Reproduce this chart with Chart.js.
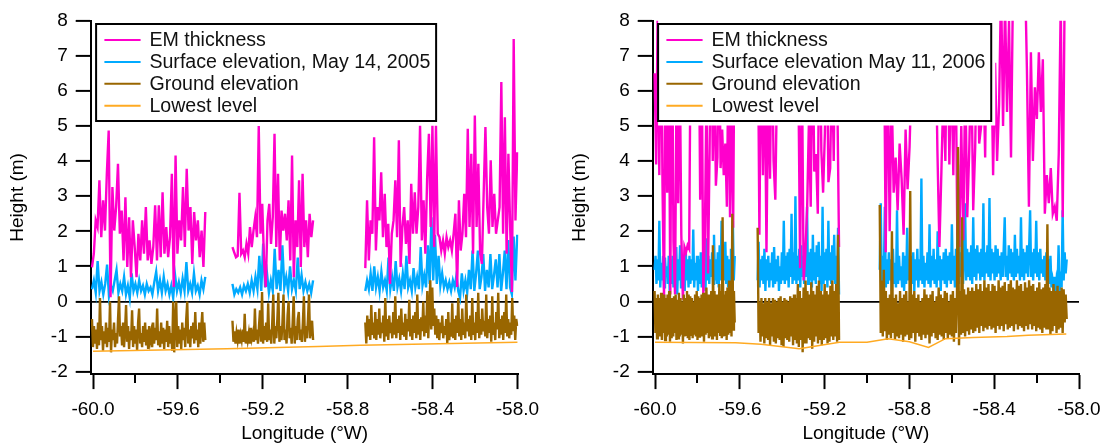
<!DOCTYPE html>
<html>
<head>
<meta charset="utf-8">
<script src="https://cdn.jsdelivr.net/npm/chart.js@4.4.1/dist/chart.umd.min.js"></script>
<style>
  html, body { margin: 0; padding: 0; background: #fff; }
  .panel { position: absolute; top: 0; width: 540px; height: 445px; }
</style>
</head>
<body>
<div class="panel" style="left:0px"><canvas id="left"></canvas></div>
<div class="panel" style="left:562px"><canvas id="right"></canvas></div>
<script>
const xTicks = [-60.0, -59.8, -59.6, -59.4, -59.2, -59.0, -58.8, -58.6, -58.4, -58.2, -58.0];
const yTicks = [-2, -1, 0, 1, 2, 3, 4, 5, 6, 7, 8];

const namesL = ["EM thickness", "Surface elevation, May 14, 2005", "Ground elevation", "Lowest level"];
const namesR = ["EM thickness", "Surface elevation May 11, 2006", "Ground elevation", "Lowest level"];
const colors = ["#ff00cc", "#00aaff", "#996600", "#ffaa22"];

// flight segments, start / end longitude
const segL = [[-60.005, -59.471], [-59.343, -58.963], [-58.717, -58.001]];
const segR = [[-60.002, -59.624], [-59.516, -59.132], [-58.94, -58.058]];

// ---- May 14, 2005 ----
const emL1 = [0.97, 1.36, 2.31, 2.12, 3.45, 1.83, 2.88, 2.02, 3.64, 4.87, 0.12, 3.26, 2.02, 2.69, 3.92, 1.93, 2.59, 1.17, 2.97, 0.98, 2.40, 0.69, 2.31, 1.55, 0.69, 1.93, 1.17, 2.31, 1.36, 2.69, 1.17, 1.74, 1.07, 1.55, 2.74, 1.17, 2.74, 1.26, 3.11, 1.36, 2.12, 1.26, 1.83, 3.64, 0.41, 4.16, 1.36, 2.31, 1.74, 3.26, 1.55, 3.78, 2.02, 2.69, 1.07, 2.55, 1.74, 2.31, 1.26, 2.02, 0.98, 2.55];
const emL2 = [1.55, 1.4, 1.26, 1.3, 3.1, 1.36, 1.45, 1.26, 1.64, 1.36, 2.12, 1.55, 2.02, 2.4, 1.83, 5.0, 1.93, 2.78, 1.17, 0.41, 2.31, 2.78, 1.64, 2.4, 4.78, 1.55, 3.64, 1.17, 2.59, 2.02, 2.5, 1.74, 2.88, 1.17, 4.16, 0.69, 2.31, 1.55, 3.45, 0.98, 3.64, 1.55, 2.31, 1.26, 2.5, 1.83, 2.31];
const emL3 = [0.95, 2.88, 1.17, 2.31, 1.93, 4.68, 1.45, 2.69, 2.31, 3.68, 1.83, 3.07, 1.55, 2.21, 0.5, 1.93, 2.31, 3.45, 1.83, 4.59, 0.98, 2.12, 2.69, 1.64, 2.31, 1.07, 3.35, 1.93, 3.11, 1.93, 2.69, 5.01, 1.74, 2.88, 1.36, 3.49, 4.78, 2.12, 5.01, 1.55, 5.01, 1.93, 1.83, 1.45, 1.74, 1.36, 1.83, 1.55, 1.74, 1.45, 1.93, 2.5, 0.41, 2.88, 1.45, 1.93, 3.07, 1.83, 4.92, 2.12, 4.21, 1.36, 5.3, 2.12, 3.92, 1.36, 1.07, 3.07, 4.97, 2.69, 1.93, 4.02, 2.12, 3.07, 1.93, 2.31, 2.69, 6.25, 1.93, 5.25, 1.36, 4.21, 2.12, 0.27, 7.48, 2.31, 4.25];

const sfL1 = [0.35, 0.6, 0.25, 1.15, 0.3, 0.55, 0.2, 0.5, 1.05, 0.15, 0.45, 0.3, 0.6, 0.9, 0.25, 0.5, 0.3, 0.7, 0.2, 0.45, 0.1, 0.8, 0.3, 0.5, 0.25, 0.6, 0.3, 0.45, 0.2, 0.5, 0.3, 0.4, 0.2, 0.55, 0.85, 0.3, 0.6, 0.25, 0.7, 0.3, 0.5, 0.2, 0.45, 0.1, 0.75, 0.3, 0.55, 0.25, 0.65, 0.3, 1.12, 0.3, 0.5, 0.25, 0.8, 0.3, 0.45, 0.2, 0.6, 0.35, 0.7];
const sfL2 = [0.5, 0.2, 0.35, 0.25, 0.4, 0.2, 0.45, 0.3, 0.5, 0.25, 0.6, 0.3, 0.7, 0.35, 1.3, 0.3, 1.65, 0.4, 0.8, 0.25, 0.6, 0.3, 1.5, 0.35, 0.9, 0.3, 1.6, 0.4, 0.7, 0.3, 1.0, 0.35, 0.6, 0.3, 1.25, 0.35, 0.75, 0.3, 0.55, 0.3, 0.5, 0.25, 0.6];
const sfL3 = [0.3, 0.6, 0.35, 0.8, 0.3, 1.0, 0.4, 0.7, 0.3, 0.85, 0.4, 0.6, 0.3, 1.25, 0.35, 0.7, 0.3, 1.15, 0.4, 0.65, 0.3, 0.8, 0.35, 1.3, 0.4, 0.6, 0.3, 0.95, 0.4, 0.7, 0.35, 1.55, 0.45, 0.75, 0.4, 1.6, 0.5, 2.4, 0.6, 1.9, 0.5, 1.3, 0.45, 0.8, 0.4, 0.6, 0.35, 0.55, 0.3, 0.6, 0.4, 0.75, 0.3, 0.1, 0.8, 0.3, 0.6, 0.25, 0.9, 0.35, 1.45, 0.3, 0.8, 1.45, 0.35, 0.7, 1.35, 0.3, 0.9, 0.4, 1.35, 0.35, 0.75, 1.2, 0.4, 1.35, 0.3, 0.8, 1.45, 0.35, 1.75, 0.4, 0.2, 1.85, 0.6, 1.9];

const gdL1 = [-0.5, -1.3, -0.7, -1.2, -0.8, -1.35, -0.6, -1.25, 0.1, -1.1,
  -0.7, -1.4, -0.85, -1.2, -0.6, -1.3, -0.75, -1.15, 0.0, -1.45,
  -0.8, -1.1, -0.6, -1.3, -0.9, -1.2, -0.5, 0.15, -1.0, -0.7,
  -1.25, -0.6, -1.3, -0.8, -0.1, -1.15, -0.7, -1.35, -0.85, -1.1,
  -0.25, -1.3, -0.7, -1.2, -0.8, -1.4, -0.6, -0.2, -1.2, -0.9,
  -1.3, -0.7, -1.15, -0.6, -1.25, -0.8, -1.35, -0.7, -1.1, -0.9,
  -1.3, -0.6, -1.2, -0.75, -1.1, -0.2, -1.25, -0.85, -1.3, -0.6,
  -1.2, -0.75, -1.35, -0.8, -1.15, -0.55, -1.3, -0.7, -1.2, -0.9,
  -1.4, 0.0, -1.45, -0.6, 0.0, -1.3, -0.7, -1.2, -0.8, -1.35,
  -0.6, -1.1, -0.75, -1.3, -0.5, 0.0, -1.2, -0.8, -1.3, -0.7,
  -1.05, -0.6, -1.2, -0.3, -1.1, -0.8, -1.3, -0.6, -1.2, -0.75,
  -0.3, -1.15, -0.6, -1.1];
const gdL2 = [-0.55, -1.15, -0.85, -1.2, -0.9, -1.1, -0.8, -1.2, -0.95, -1.1,
  -0.8, -1.15, -0.35, -1.2, -0.85, -1.1, -0.9, -1.2, -0.75, -1.05,
  -0.9, -1.15, -0.2, -1.1, -0.8, -1.2, -0.7, -0.25, -1.15, 0.27,
  -1.2, -0.7, -1.1, -0.6, -1.15, -0.05, -1.1, -0.8, -1.2, -0.6,
  0.2, -1.2, -0.7, -1.05, -0.5, 0.25, -1.15, -0.7, -1.1, -0.6,
  0.2, -1.1, -0.8, -1.2, -0.4, 0.0, -1.05, -0.75, -1.2, -0.6,
  0.15, -1.2, -0.7, -1.1, -0.5, -0.3, -1.1, -0.8, -1.15, -0.6,
  0.15, -1.15, -0.7, -1.05, -0.5, 0.2, -1.05, -0.8, -0.55, -1.1];
const gdL3 = [-0.6, -1.2, -0.4, -1.0, -0.5, -1.1, -0.1, -0.95, -0.6, -1.05,
  -0.3, -1.1, -0.5, -0.95, -0.2, -1.05, -0.6, -0.9, -0.4, -1.15,
  0.1, -1.0, -0.5, -1.1, -0.4, -0.9, -0.6, -1.05, -0.3, -0.95,
  0.15, -1.05, -0.5, -0.9, -0.4, -1.1, -0.2, -0.95, -0.6, -1.0,
  -0.35, -1.1, -0.5, -0.85, 0.05, -1.0, -0.5, -1.1, -0.4, -0.9,
  -0.3, -1.05, 0.2, -0.95, -0.5, -1.1, -0.45, -0.85, 0.0, -1.0,
  -0.4, -0.9, 0.3, -1.05, -0.3, 0.6, -0.8, 0.4, -0.7, -0.2,
  -0.95, -0.4, -1.05, -0.5, -1.1, -0.6, -0.9, -0.4, -1.05, -0.7,
  -0.95, -0.5, -1.2, -0.3, -1.1, -0.6, -1.0, -0.05, -1.05, -0.5,
  -1.1, -0.4, -0.9, 0.1, -1.0, -0.5, -1.1, -0.2, -0.95, -0.6,
  -1.05, 0.2, -0.85, -0.5, -1.0, -0.4, -1.1, 0.1, -0.95, -0.6,
  -1.1, -0.3, -0.9, 0.25, -1.05, -0.5, -0.95, -0.2, -0.85, -0.55,
  -1.0, 0.2, -1.05, -0.5, -0.9, -0.4, -1.15, 0.15, -0.95, -0.6,
  -1.1, -0.3, -0.8, 0.25, -1.05, -0.5, -0.95, -0.4, -1.1, -0.3,
  -0.9, 0.2, -1.0, -0.5, -1.05, -0.6, -0.95, 0.1, -0.85, -0.4,
  -1.1, -0.5, -0.7];

const lowLonL = [-60.0, -59.37, -58.94, -58.74, -58.0];
const lowL = [-1.42, -1.35, -1.28, -1.25, -1.16];

// ---- May 11, 2006 ----
const emR1 = [6.5, 3.9, 8.5, 3.6, 9, 3.4, 0.05, 8, 3.1, 7, 0.2, 9, 1.7, 0.2, 6.5, 2.8, 7, 1.9, 0.05, 1.55, 1.4, 1.6, 1.5, 8, 9, 7, 8.5, 6, 9, 2.9, 7, 0.2, 1.9, 6, 0.8, 4.3, 9, 4.0, 7, 3.3, 4.1, 8, 3.8, 4.9, 3.6, 4.5, 2.7, 7, 2.4, 6, 2.1, 9];
const emR2 = [9, 1.9, 8, 3.6, 7, 1.4, 6.5, 3.5, 8, 4.0, 2.9, 6.5, 8, 7, 9, 6.5, 8, 7.5, 9, 6, 8, 7, 9, 6.5, 0.95, 7, 0.6, 1.4, 2.7, 5.2, 2.7, 8, 3.7, 4.2, 2.5, 9, 4.3, 3.1, 4.8, 8, 3.4, 3.8, 7, 4.0, 9, 6, 1.55];
const emR3 = [8, 9, 9, 1.4, 7, 2.0, 6, 3.1, 4.1, 2.6, 4.5, 3.5, 1.9, 4.9, 3.2, 4.4,
  6.5, 8, 9, 7, 8.5, 6.2, 9, 7, 8, 7.5, 9, 6.5, 8,
  4.3, 1.55, 3.7, 6, 4.0, 9, 3.9, 7, 3.6, 8, 1.9, 1.55, 5.0, 1.74, 6.5, 2.4, 4.3, 7, 2.6, 4.4, 8, 4.5, 5.0, 7, 4.1,
  9, 5.2, 7.5, 3.6, 6.8, 4.0, 5.6, 9, 5.0, 8.5, 5.4, 8, 4.1,
  9, 10, 9.5, 11, 9, 10, 9.5,
  6.6, 2.7, 7.1, 4.0, 6.1, 5.2, 7.1, 5.4, 6.9, 2.5, 3.6, 2.8, 3.8, 2.5, 2.7, 2.3, 4.2, 8.5, 2.4, 9, 8.6];

const sfR1 = [0.9, 1.3, 0.5, 1.2, 0.6, 2.3, 0.4, 1.1, 0.6, 1.3,
  0.4, 1.25, 0.7, 1.0, 0.5, 1.3, 0.3, 1.2, 0.5, 1.3,
  0.4, 0.9, 0.6, 1.55, 0.2, 1.2, 0.6, 1.6, 0.4, 1.1,
  0.5, 1.0, 0.3, 1.5, 0.6, 1.2, 0.4, 1.3, 0.5, 1.2,
  0.6, 2.05, 0.4, 1.1, 0.6, 1.3, 0.3, 1.2, 0.5, 1.4,
  0.4, 1.0, 0.6, 1.3, 0.3, 1.8, 0.6, 1.3, 0.5, 1.2,
  0.7, 1.4, 0.5, 1.9, 0.6, 1.2, 0.5, 1.4, 0.4, 1.6,
  0.6, 2.3, 0.5, 1.3, 0.6, 1.7, 0.5, 1.3, 0.4, 1.2,
  0.6, 1.5, 0.5, 2.3, 0.6, 1.3];
const sfR2 = [0.6, 1.7, 0.4, 1.2, 0.6, 1.3, 0.5, 1.5, 0.3, 1.2,
  0.6, 1.3, 0.4, 1.1, 0.6, 1.4, 0.4, 1.55, 0.5, 1.2,
  0.6, 1.3, 0.3, 1.0, 0.5, 1.4, 0.6, 2.3, 0.5, 1.3,
  0.6, 1.4, 0.4, 1.5, 0.7, 2.5, 0.5, 1.4, 0.6, 3.0,
  0.5, 1.3, 0.6, 1.5, 0.4, 1.6, 0.7, 1.3, 0.5, 1.5,
  0.7, 2.7, 0.5, 1.4, 0.6, 1.5, 0.4, 1.9, 0.6, 1.4,
  0.5, 1.6, 0.7, 1.7, 0.5, 1.3, 0.3, 2.7, 0.5, 1.4,
  0.6, 1.5, 0.4, 2.3, 0.6, 1.4, 0.5, 1.6, 0.6, 1.9,
  0.5, 1.3, 0.4, 2.1, 0.2];
const sfR3 = [0.9, 2.8, 0.5, 1.3, 0.6, 2.7, 0.4, 1.2, 0.5, 1.4,
  0.6, 1.2, 0.3, 1.5, 0.5, 1.1, 0.4, 2.6, 0.5, 1.3,
  0.6, 1.0, 0.4, 1.4, 0.3, 1.3, 0.5, 2.1, 0.6, 1.2,
  0.4, 1.3, 0.5, 1.4, 0.3, 1.2, 0.6, 1.5, 0.4, 1.2,
  0.6, 3.5, 0.5, 1.3, 0.4, 1.1, 0.6, 1.4, 0.5, 2.2,
  0.4, 1.3, 0.6, 1.5, 0.5, 1.2, 0.4, 2.0, 0.6, 1.3,
  0.3, 1.2, 0.6, 1.4, 0.5, 1.5, 0.4, 1.3, 0.6, 1.4,
  0.5, 2.2, 0.6, 1.3, 0.4, 1.5, 0.6, 3.9, 0.5, 1.4,
  0.7, 2.2, 0.5, 1.3, 2.8, 0.6, 1.5, 0.7, 1.4, 0.6,
  1.6, 0.5, 2.4, 0.7, 1.5, 0.6, 1.6, 0.8, 1.4, 0.6,
  1.5, 0.7, 2.8, 0.6, 1.4, 0.8, 1.6, 0.7, 2.95, 0.6,
  1.5, 0.8, 1.4, 0.6, 1.6, 0.7, 1.5, 0.8, 1.3, 0.6,
  1.4, 0.7, 1.5, 2.4, 0.7, 1.3, 0.6, 1.6, 0.8, 1.5,
  0.7, 1.4, 0.6, 1.9, 0.7, 1.5, 0.8, 1.3, 0.6, 2.4,
  0.7, 1.5, 0.6, 1.4, 0.8, 1.6, 0.7, 1.5, 2.6, 0.7,
  1.4, 0.6, 1.5, 0.8, 2.3, 0.7, 1.4, 0.6, 1.5, 0.8,
  1.2, 0.7, 1.3, 0.6, 1.4, 0.7, 1.2, 0.5, 1.3, 0.4,
  0.6, 0.3, 0.7, 0.2, 0.6, 0.4, 1.6, 0.3, 0.6, 0.4,
  2.6, 0.6, 1.4, 0.8, 1.2];

const gdR1 = [0.3, -0.9, 0.1, -1.05, 0.2, -0.95, 0.1, -1.0, 0.25, -1.1,
  0.0, -0.9, 0.2, -1.1, 0.1, -1.0, 0.2, -0.95, 0.3, -1.15,
  0.0, -1.05, 0.1, -1.0, 0.15, -0.9, 0.2, -1.1, 0.05, -1.05,
  0.25, -1.0, 0.1, -0.95, 0.0, -1.2, 0.2, -1.0, 0.1, -0.95,
  0.3, -1.05, 0.2, -1.1, 0.15, -0.95, 0.1, -1.05, 0.0, -0.95,
  0.2, -1.0, 0.3, -1.1, 0.15, -1.0, 0.1, -0.9, 0.2, -1.0,
  0.25, -1.15, 0.1, -0.95, 0.4, -0.9, 0.2, -1.05, 0.0, -1.0,
  0.3, -1.05, 1.6, -0.95, 0.3, -1.0, 0.2, -1.1, 0.1, -0.9,
  0.5, -0.95, 0.3, -1.05, 2.4, -1.0, 0.2, -0.95, 0.3, -1.1,
  0.4, -0.95, 0.6, -0.9, 0.3, -1.0, 2.5, -0.8, 0.3, -0.6];
const gdR2 = [2.1, -0.9, 0.0, -1.15, 0.1, -1.0, -0.05, -1.2, 0.1, -1.05,
  0.0, -1.1, 0.1, -1.25, -0.05, -1.0, 0.1, -1.15, 0.05, -1.2,
  0.0, -1.05, 0.1, -1.1, 0.15, -1.25, 0.0, -1.3, 0.1, -1.05,
  0.05, -1.1, 0.0, -1.15, 0.15, -1.0, 0.1, -1.25, 0.2, -1.1,
  0.1, -1.2, 0.5, -1.3, 0.3, -1.1, 0.1, -1.45, 0.4, -1.2,
  0.6, -1.2, 0.3, -1.05, 0.2, -1.1, 0.55, -1.35, 0.3, -1.15,
  0.2, -1.0, 0.45, -1.2, 0.6, -1.1, 0.3, -1.25, 0.2, -1.1,
  0.5, -1.05, 0.3, -1.2, 0.2, -1.15, 0.45, -1.0, 0.6, -1.1,
  0.3, -1.0, 0.5, -1.15, 1.9, -1.1];
const gdR3 = [2.75, -0.9, 0.6, -1.0, 0.9, -0.85, 0.3, -1.1, 0.1, -0.95,
  0.2, -1.05, 2.0, -0.9, 0.1, -1.1, 0.2, -1.0, -0.05, -1.05,
  0.3, -0.95, 0.1, -1.15, 0.2, -1.0, 0.3, -0.95, 0.0, -1.1,
  3.15, -1.05, 0.2, -0.9, 0.3, -1.15, 0.1, -0.9, 0.2, -1.0,
  0.0, -1.1, 0.1, -0.95, 0.35, -1.05, 0.2, -0.95, 0.1, -1.2,
  0.2, -1.0, 0.3, -0.9, 0.0, -1.05, 0.15, -1.1, 0.4, -0.95,
  0.2, -1.0, 0.1, -1.1, 0.3, -0.9, 0.25, -1.05, 0.0, -0.95,
  0.2, -1.0, 0.3, -1.15, 0.1, -0.9, 0.2, 4.4, -1.25, 0.3,
  -0.95, 2.4, -0.9, 0.35, -1.0, 0.2, -0.85, 0.4, -0.95, 0.3,
  -0.8, 0.4, -0.9, 0.3, -0.85, 0.5, -0.75, 0.35, -0.9, 0.5,
  -0.7, 0.3, -0.85, 0.6, -0.75, 0.4, -0.8, 0.5, -0.7, 0.3,
  -0.8, 0.5, -0.75, 0.45, -0.9, 0.3, -0.7, 0.6, -0.8, 0.4,
  -0.7, 0.45, -0.85, 0.55, -0.65, 0.3, -0.8, 0.5, -0.75, 0.6,
  -0.7, 0.4, -0.85, 0.35, -0.65, 0.6, -0.8, 0.45, -0.7, 0.5,
  -0.75, 0.3, -0.85, 0.55, -0.7, 0.4, -0.8, 0.6, -0.65, 0.45,
  -0.8, 0.5, -0.7, 0.3, -0.85, 0.4, -0.75, 0.55, -0.8, 0.35,
  -0.9, 0.4, -0.75, 0.5, -0.8, 2.2, -0.8, 0.4, -0.95, 0.3,
  -0.85, 0.5, -0.7, 0.3, -0.9, 0.45, -0.8, 0.3, -0.75, 0.4,
  -0.9, 0.35, -0.6, 0.2, -0.5];

const lowLonR = [-60.0, -59.62, -59.5, -59.32, -59.13, -59.0, -58.9, -58.8, -58.71, -58.63, -58.5, -58.34, -58.24, -58.06];
const lowR = [-1.16, -1.18, -1.22, -1.35, -1.16, -1.16, -1.06, -1.15, -1.31, -1.06, -1.03, -1.0, -0.96, -0.93];

Chart.defaults.font.family = "'Liberation Sans', Arial, sans-serif";
Chart.defaults.font.size = 19;
Chart.defaults.color = "#000";

// samples of each segment spread along its longitude span, null between segments
function track(segs, parts) {
    const pts = [];
    parts.forEach((vals, i) => {
        const [a, b] = segs[i];
        vals.forEach((v, k) => pts.push({ x: a + ((b - a) * k) / (vals.length - 1), y: v }));
        if (i < parts.length - 1) pts.push({ x: (b + segs[i + 1][0]) / 2, y: null });
    });
    return pts;
}

const boxLegend = {
    id: "boxLegend",
    afterDatasetsDraw(chart) {
        const ctx = chart.ctx;
        const area = chart.chartArea;
        const ds = chart.data.datasets;
        ctx.save();
        ctx.font = "19.6px 'Liberation Sans', Arial, sans-serif";
        const textW = Math.max(...ds.map((d) => ctx.measureText(d.label).width));
        const x0 = area.left + 5.4, y0 = 24, h = 97;
        const w = 53.3 + textW + 5.7;
        ctx.fillStyle = "#fff";
        ctx.fillRect(x0, area.top - 3, w + 4, y0 - area.top + 3 + h + 4.5);
        ctx.strokeStyle = "#000";
        ctx.lineWidth = 2;
        ctx.strokeRect(x0, y0, w, h);
        ds.forEach((d, i) => {
            const yy = y0 + 16 + 21.9 * i;
            ctx.strokeStyle = d.borderColor;
            ctx.lineWidth = 2;
            ctx.beginPath();
            ctx.moveTo(area.left + 13.7, yy);
            ctx.lineTo(area.left + 49.9, yy);
            ctx.stroke();
            ctx.fillStyle = "#111";
            ctx.textBaseline = "middle";
            ctx.fillText(d.label, area.left + 58.7, yy + 1);
        });
        ctx.restore();
    },
};

const minorTicks = {
    id: "minorTicks",
    afterDraw(chart) {
        const sx = chart.scales.x;
        const ctx = chart.ctx;
        const yb = chart.chartArea.bottom;
        ctx.save();
        ctx.strokeStyle = "#000";
        ctx.lineWidth = 2;
        xTicks.forEach((v, i) => {
            if (i % 2 === 0) return;
            const px = Math.round(sx.getPixelForValue(v));
            ctx.beginPath();
            ctx.moveTo(px, yb);
            ctx.lineTo(px, yb + 9);
            ctx.stroke();
        });
        ctx.restore();
    },
};

function makeChart(id, names, segs, em, sf, gd, lowLon, low, xMax, padRight) {
    const line = (i, data, width, order) => ({
        label: names[i],
        data: data,
        borderColor: colors[i],
        borderWidth: width,
        pointRadius: 0,
        tension: 0,
        spanGaps: false,
        order: order,
    });
    return new Chart(document.getElementById(id), {
        type: "line",
        data: {
            datasets: [
                line(0, track(segs, em), 2.4, 2),
                line(1, track(segs, sf), 2.4, 3),
                line(2, track(segs, gd), 2.4, 1),
                line(3, lowLon.map((x, k) => ({ x: x, y: low[k] })), 1.5, 0),
            ],
        },
        options: {
            responsive: true,
            maintainAspectRatio: false,
            animation: false,
            events: [],
            layout: { padding: { left: 0, top: 20.7, right: padRight, bottom: 0 } },
            plugins: { legend: { display: false }, tooltip: { enabled: false } },
            scales: {
                x: {
                    type: "linear",
                    min: -60.011,
                    max: xMax,
                    afterBuildTicks: (s) => { s.ticks = xTicks.map((v) => ({ value: v })); },
                    afterFit: (s) => { s.height = 70.9; s.paddingLeft = 0; s.paddingRight = 0; },
                    grid: {
                        drawOnChartArea: false,
                        tickLength: 15,
                        tickWidth: 2,
                        tickColor: (c) => (c.index % 2 === 0 ? "#000" : "rgba(0,0,0,0)"),
                    },
                    border: { color: "#000", width: 2 },
                    ticks: {
                        padding: 9,
                        maxRotation: 0,
                        autoSkip: false,
                        callback: (v, i) => (i % 2 === 0 ? Number(v).toFixed(1) : ""),
                    },
                    title: { display: true, text: "Longitude (°W)", padding: { top: 0, bottom: 0 } },
                },
                y: {
                    min: -2.07,
                    max: 8,
                    afterBuildTicks: (s) => { s.ticks = yTicks.map((v) => ({ value: v })); },
                    afterFit: (s) => { s.width = 90.7; s.paddingTop = 0; s.paddingBottom = 0; },
                    grid: {
                        color: (c) => (c.tick && c.tick.value === 0 ? "#000" : "rgba(0,0,0,0)"),
                        lineWidth: 1.8,
                        tickLength: 15,
                        tickWidth: 2,
                        tickColor: "#000",
                    },
                    border: { color: "#000", width: 2 },
                    ticks: { padding: 8, callback: (v) => String(v) },
                    title: { display: true, text: "Height (m)", padding: { top: 6, bottom: 0 } },
                },
            },
        },
        plugins: [boxLegend, minorTicks],
    });
}

makeChart("left", namesL, segL, [emL1, emL2, emL3], [sfL1, sfL2, sfL3], [gdL1, gdL2, gdL3], lowLonL, lowL, -57.995, 21.5);
makeChart("right", namesR, segR, [emR1, emR2, emR3], [sfR1, sfR2, sfR3], [gdR1, gdR2, gdR3], lowLonR, lowR, -58.0, 23);
</script>
</body>
</html>
